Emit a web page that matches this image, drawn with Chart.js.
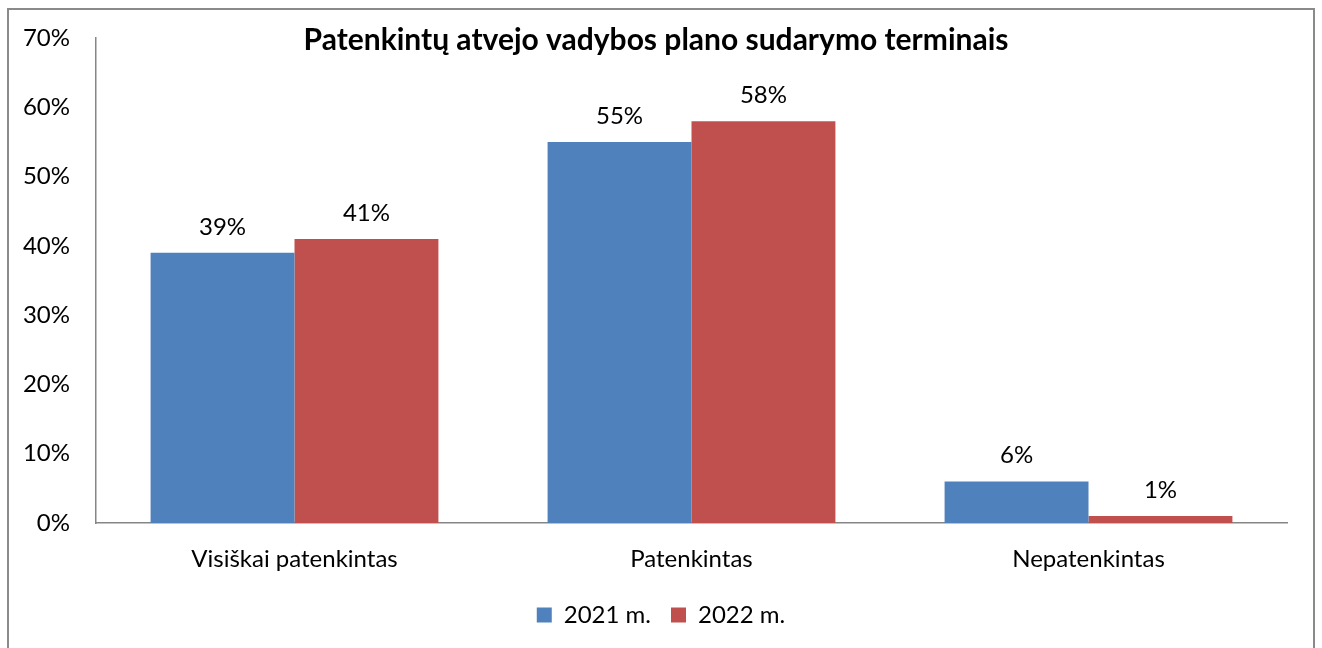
<!DOCTYPE html>
<html lang="lt">
<head>
<meta charset="utf-8">
<title>Patenkintų atvejo vadybos plano sudarymo terminais</title>
<script src="https://cdn.jsdelivr.net/npm/chart.js@4/dist/chart.umd.min.js"></script>
<style>
  html, body { margin: 0; padding: 0; background: #fff; overflow: hidden; }
  #wrap { position: relative; width: 1322px; height: 648px; }
  #frame {
    position: absolute; left: 7px; top: 8px; width: 1308px; height: 660px;
    border: 2px solid #8a8a8a; box-sizing: border-box; pointer-events: none;
  }
  canvas { position: absolute; left: 0; top: 0; }
</style>
</head>
<body>
<div id="wrap">
  <canvas id="terminaiChart" width="1322" height="648"></canvas>
  <div id="frame"></div>
</div>
<script>
const chartTitle = "Patenkintų atvejo vadybos plano sudarymo terminais";
const categories = ["Visiškai patenkintas", "Patenkintas", "Nepatenkintas"];
const seriesNames = ["2021 m.", "2022 m."];
const values2021 = [39, 55, 6];
const values2022 = [41, 58, 1];
const yTicks = [0, 10, 20, 30, 40, 50, 60, 70];

const FONT = "Lato, 'Open Sans', sans-serif";
const axisGray = "#868686";

// value labels above each bar
const barValueLabels = {
  id: "barValueLabels",
  afterDatasetsDraw(chart) {
    const ctx = chart.ctx;
    ctx.save();
    ctx.font = "24px " + FONT;
    ctx.fillStyle = "#000";
    ctx.textAlign = "center";
    ctx.textBaseline = "middle";
    chart.data.datasets.forEach((ds, i) => {
      chart.getDatasetMeta(i).data.forEach((bar, j) => {
        ctx.fillText(ds.data[j] + "%", bar.x, bar.y - 26);
      });
    });
    ctx.restore();
  }
};

// bold title sitting inside the top of the plot
const overlayTitle = {
  id: "overlayTitle",
  afterDraw(chart) {
    const ctx = chart.ctx;
    ctx.save();
    ctx.font = "bold 30px " + FONT;
    ctx.fillStyle = "#000";
    ctx.textAlign = "center";
    ctx.textBaseline = "middle";
    ctx.fillText(chartTitle, 656, 40);
    ctx.restore();
  }
};

new Chart(document.getElementById("terminaiChart").getContext("2d"), {
  type: "bar",
  data: {
    labels: categories,
    datasets: [
      { label: seriesNames[0], data: values2021, backgroundColor: "#4F81BD" },
      { label: seriesNames[1], data: values2022, backgroundColor: "#C0504D" }
    ]
  },
  options: {
    responsive: false,
    animation: false,
    devicePixelRatio: 1,
    layout: { padding: { top: 38, right: 0, bottom: 11, left: 0 } },
    datasets: { bar: { categoryPercentage: 0.725, barPercentage: 1.0 } },
    plugins: {
      title: { display: false },
      tooltip: { enabled: false },
      legend: {
        position: "bottom",
        labels: {
          boxWidth: 15, boxHeight: 15, padding: 20,
          color: "#000", font: { family: FONT, size: 24 }
        }
      }
    },
    scales: {
      x: {
        grid: { display: false, drawTicks: false, tickLength: 0 },
        border: { display: true, color: axisGray, width: 1.5 },
        ticks: { color: "#000", font: { family: FONT, size: 24 }, padding: 22 },
        afterFit(scale) {
          scale.height = 60;
          scale.paddingLeft = 0;
          scale.paddingRight = 0;
        }
      },
      y: {
        min: 0, max: 70,
        afterBuildTicks(scale) { scale.ticks = yTicks.map(v => ({ value: v })); },
        grid: { display: false, drawTicks: false, tickLength: 0 },
        border: { display: true, color: axisGray, width: 1.5 },
        ticks: {
          color: "#000", font: { family: FONT, size: 24 }, padding: 26,
          callback: v => v + "%"
        },
        afterFit(scale) {
          scale.width = 96;
          scale.paddingTop = 0;
          scale.paddingBottom = 0;
        }
      },
      // empty right-hand gutter so the legend stays centred on the canvas
      gutter: {
        type: "linear",
        position: "right",
        grid: { display: false },
        border: { display: false },
        ticks: { display: false },
        afterFit(scale) { scale.width = 35; }
      }
    }
  },
  plugins: [barValueLabels, overlayTitle]
});
</script>
</body>
</html>
